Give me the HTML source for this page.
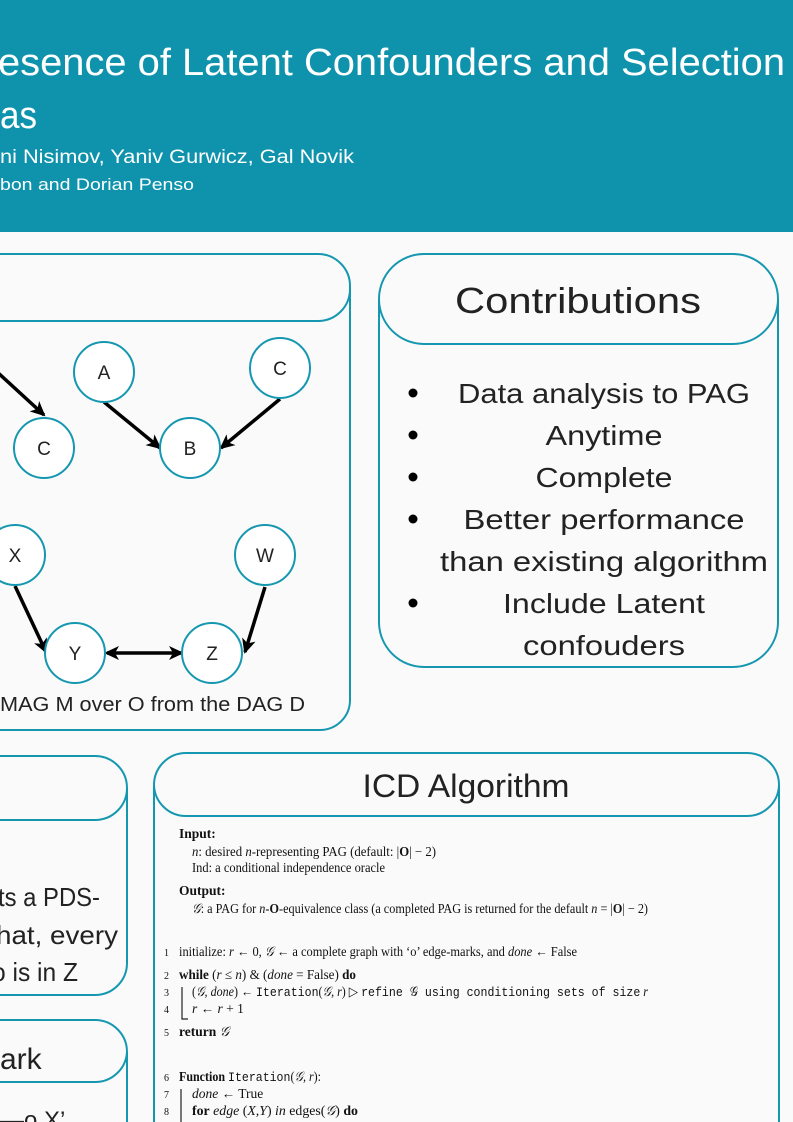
<!DOCTYPE html>
<html><head><meta charset="utf-8"><style>
html,body{margin:0;padding:0;background:#fafafa;}
svg{display:block;}
.s{font-family:"Liberation Sans",sans-serif;fill:#222;}
.r{font-family:"Liberation Serif",serif;fill:#111;font-size:13.5px;}
.m{font-family:"Liberation Mono",monospace;fill:#111;font-size:13px;}
</style></head><body>
<svg width="793" height="1122" viewBox="0 0 793 1122" xmlns="http://www.w3.org/2000/svg">
<defs><marker id="ah" markerWidth="16" markerHeight="14" refX="13" refY="7" orient="auto" markerUnits="userSpaceOnUse"><path d="M0,0 L15,7 L0,14 L4,7 Z" fill="#000"/></marker>
<marker id="ahs" markerWidth="16" markerHeight="14" refX="3" refY="7" orient="auto" markerUnits="userSpaceOnUse"><path d="M15,0 L0,7 L15,14 L11,7 Z" fill="#000"/></marker></defs>
<rect x="0" y="0" width="793" height="232" fill="#0f93ad"/>
<text class="s" x="-2" y="75" font-size="38" style="fill:#fff" textLength="787" lengthAdjust="spacingAndGlyphs">esence of Latent Confounders and Selection</text>
<text class="s" x="0" y="128" font-size="38" style="fill:#fff" textLength="37" lengthAdjust="spacingAndGlyphs">as</text>
<text class="s" x="0" y="163" font-size="19" style="fill:#fff" textLength="354" lengthAdjust="spacingAndGlyphs">ni Nisimov, Yaniv Gurwicz, Gal Novik</text>
<text class="s" x="0" y="190" font-size="17" style="fill:#fff" textLength="194" lengthAdjust="spacingAndGlyphs">bon and Dorian Penso</text>

<g fill="none" stroke="#1597b0" stroke-width="2">
<path d="M-5,254 H318 A32,32 0 0 1 350,286 V700 A30,30 0 0 1 320,730 H-5"/>
<path d="M-5,321 H318 A32,32 0 0 0 350,289"/>
<path d="M424,254 H733 A45,45 0 0 1 778,299 V622 A45,45 0 0 1 733,667 H424 A45,45 0 0 1 379,622 V299 A45,45 0 0 1 424,254 Z"/>
<path d="M379,299 A45,45 0 0 0 424,344 H733 A45,45 0 0 0 778,299"/>
<path d="M-5,756 H95 A32,32 0 0 1 127,788 V963 A32,32 0 0 1 95,995 H-5"/>
<path d="M-5,820 H95 A32,32 0 0 0 127,788"/>
<path d="M-5,1020 H95 A32,32 0 0 1 127,1052 V1130"/>
<path d="M-5,1082 H95 A32,32 0 0 0 127,1052"/>
<path d="M154,1130 V785 A32,32 0 0 1 186,753 H747 A32,32 0 0 1 779,785 V1130"/>
<path d="M154,785 A32,32 0 0 0 186,816 H747 A32,32 0 0 0 779,785"/>
</g>

<g stroke="#000" stroke-width="3.5" fill="none">
<line x1="-5" y1="370" x2="44" y2="415" marker-end="url(#ah)"/>
<line x1="104" y1="402" x2="160" y2="448" marker-end="url(#ah)"/>
<line x1="280" y1="399" x2="221" y2="448" marker-end="url(#ah)"/>
<line x1="15" y1="586" x2="46" y2="652" marker-end="url(#ah)"/>
<line x1="265" y1="587" x2="245" y2="652" marker-end="url(#ah)"/>
<line x1="107" y1="653" x2="182" y2="653" marker-end="url(#ah)" marker-start="url(#ahs)"/>
</g>
<g fill="#fff" stroke="#1597b0" stroke-width="2">
<circle cx="44" cy="448" r="30"/><circle cx="104" cy="372" r="30"/><circle cx="190" cy="448" r="30"/>
<circle cx="280" cy="368" r="30"/><circle cx="15" cy="555" r="30"/><circle cx="265" cy="555" r="30"/>
<circle cx="75" cy="653" r="30"/><circle cx="212" cy="653" r="30"/>
</g>
<g class="s" font-size="19" text-anchor="middle">
<text x="44" y="455">C</text><text x="104" y="379">A</text><text x="190" y="455">B</text>
<text x="280" y="375">C</text><text x="15" y="562">X</text><text x="265" y="562">W</text>
<text x="75" y="660">Y</text><text x="212" y="660">Z</text>
</g>
<text class="s" x="0" y="711" font-size="20" textLength="305" lengthAdjust="spacingAndGlyphs">MAG M over O from the DAG D</text>

<text class="s" x="578" y="313" font-size="36" text-anchor="middle" textLength="246" lengthAdjust="spacingAndGlyphs">Contributions</text>
<g fill="#000"><circle cx="413" cy="393" r="4.5"/><circle cx="413" cy="435" r="4.5"/><circle cx="413" cy="477" r="4.5"/><circle cx="413" cy="519" r="4.5"/><circle cx="413" cy="603" r="4.5"/></g>
<g class="s" font-size="28" text-anchor="middle" lengthAdjust="spacingAndGlyphs">
<text x="604" y="403" textLength="292" lengthAdjust="spacingAndGlyphs">Data analysis to PAG</text>
<text x="604" y="445" textLength="117" lengthAdjust="spacingAndGlyphs">Anytime</text>
<text x="604" y="487" textLength="137" lengthAdjust="spacingAndGlyphs">Complete</text>
<text x="604" y="529" textLength="281" lengthAdjust="spacingAndGlyphs">Better performance</text>
<text x="604" y="571" textLength="328" lengthAdjust="spacingAndGlyphs">than existing algorithm</text>
<text x="604" y="613" textLength="202" lengthAdjust="spacingAndGlyphs">Include Latent</text>
<text x="604" y="655" textLength="162" lengthAdjust="spacingAndGlyphs">confouders</text>
</g>

<g class="s" font-size="26">
<text x="-2" y="906" textLength="102" lengthAdjust="spacingAndGlyphs">ts a PDS-</text>
<text x="-4" y="944" textLength="122" lengthAdjust="spacingAndGlyphs">hat, every</text>
<text x="-8" y="981" textLength="86" lengthAdjust="spacingAndGlyphs">o is in Z</text>
<text x="0" y="1069" font-size="30">ark</text>
<text x="0" y="1128" font-size="24">—o X’</text>
</g>

<text class="s" x="466" y="797" font-size="32" text-anchor="middle" textLength="207" lengthAdjust="spacingAndGlyphs">ICD Algorithm</text>
<g class="r">
<text x="179" y="838" font-weight="bold">Input:</text>
<text x="192" y="856" textLength="244" lengthAdjust="spacingAndGlyphs"><tspan font-style="italic">n</tspan>: desired <tspan font-style="italic">n</tspan>-representing PAG (default: |<tspan font-weight="bold">O</tspan>| − 2)</text>
<text x="192" y="872" textLength="193" lengthAdjust="spacingAndGlyphs">Ind: a conditional independence oracle</text>
<text x="179" y="895" font-weight="bold">Output:</text>
<text x="192" y="913" textLength="456" lengthAdjust="spacingAndGlyphs"><tspan font-style="italic">𝒢</tspan>: a PAG for <tspan font-style="italic">n</tspan>-<tspan font-weight="bold">O</tspan>-equivalence class (a completed PAG is returned for the default <tspan font-style="italic">n</tspan> = |<tspan font-weight="bold">O</tspan>| − 2)</text>
<text x="164" y="956" font-size="10">1</text>
<text x="179" y="956" textLength="398" lengthAdjust="spacingAndGlyphs">initialize: <tspan font-style="italic">r</tspan> ← 0, <tspan font-style="italic">𝒢</tspan> ← a complete graph with ‘o’ edge-marks, and <tspan font-style="italic">done</tspan> ← False</text>
<text x="164" y="979" font-size="10">2</text>
<text x="179" y="979" textLength="177" lengthAdjust="spacingAndGlyphs"><tspan font-weight="bold">while</tspan> (<tspan font-style="italic">r</tspan> ≤ <tspan font-style="italic">n</tspan>) &amp; (<tspan font-style="italic">done</tspan> = False) <tspan font-weight="bold">do</tspan></text>
<text x="164" y="996" font-size="10">3</text>
<text x="192" y="996" textLength="456" lengthAdjust="spacingAndGlyphs">(<tspan font-style="italic">𝒢, done</tspan>) ← <tspan class="m">Iteration</tspan>(<tspan font-style="italic">𝒢, r</tspan>)  ▷ <tspan class="m">refine 𝒢 using conditioning sets of size</tspan> <tspan font-style="italic">r</tspan></text>
<text x="164" y="1013" font-size="10">4</text>
<text x="192" y="1013"><tspan font-style="italic">r</tspan> ← <tspan font-style="italic">r</tspan> + 1</text>
<text x="164" y="1036" font-size="10">5</text>
<text x="179" y="1036"><tspan font-weight="bold">return</tspan> <tspan font-style="italic">𝒢</tspan></text>
<text x="164" y="1081" font-size="10">6</text>
<text x="179" y="1081" textLength="142" lengthAdjust="spacingAndGlyphs"><tspan font-weight="bold">Function</tspan> <tspan class="m">Iteration</tspan>(<tspan font-style="italic">𝒢, r</tspan>):</text>
<text x="164" y="1098" font-size="10">7</text>
<text x="192" y="1098"><tspan font-style="italic">done</tspan> ← True</text>
<text x="164" y="1115" font-size="10">8</text>
<text x="192" y="1115" textLength="166" lengthAdjust="spacingAndGlyphs"><tspan font-weight="bold">for</tspan> <tspan font-style="italic">edge</tspan> (<tspan font-style="italic">X,Y</tspan>) <tspan font-style="italic">in</tspan> edges(<tspan font-style="italic">𝒢</tspan>) <tspan font-weight="bold">do</tspan></text>
</g>
<g stroke="#222" stroke-width="1.2" fill="none">
<path d="M182,987 V1019 H188"/>
<line x1="181" y1="1089" x2="181" y2="1122"/>
</g>
</svg>
</body></html>
